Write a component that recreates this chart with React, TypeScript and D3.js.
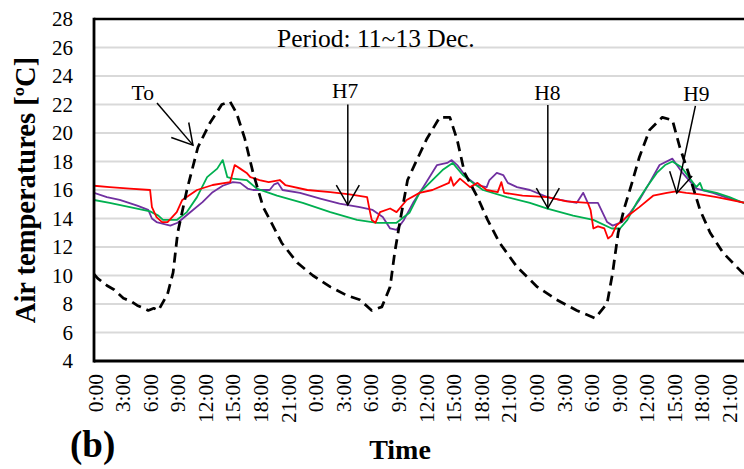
import React from "react";
import * as d3 from "d3";

// Outdoor air (To) and room air temperatures (H7, H8, H9), hours from 0:00 on 11 Dec.
const toSeries: [number, number][] = [
  [0, 10.1], [0.4, 9.8], [1.4, 9.3], [2.2, 9.0], [3.2, 8.4], [4, 8.2], [4.7, 7.9], [5.9, 7.55],
  [6.5, 7.7], [7.0, 7.55], [8, 8.7], [8.6, 10.2], [9.1, 13.0], [10.1, 16.0], [11.3, 19.0],
  [12.6, 20.7], [13.9, 22.0], [14.8, 22.2], [15.5, 21.4], [16.4, 19.6], [17.3, 17.2], [18.4, 14.8],
  [19.3, 13.7], [20.4, 12.3], [22.1, 10.9], [23.8, 10.0], [25.7, 9.2], [27.5, 8.6], [28.9, 8.3],
  [30.2, 7.55], [31.3, 7.8], [32.2, 9.2], [32.7, 11.6], [33.3, 13.9], [34.1, 16.7], [35.1, 18.1],
  [36.2, 19.6], [37.6, 21.1], [38.7, 21.1], [39.5, 19.5], [40.3, 17.2], [41.7, 15.5], [42.8, 13.9],
  [44.1, 12.3], [46.0, 10.6], [48.2, 9.2], [50.3, 8.3], [52.5, 7.55], [54.5, 7.0], [55.8, 8.05],
  [56.4, 10.2], [57.0, 13.0], [57.7, 14.8], [58.5, 16.5], [59.3, 18.3], [60.4, 20.2], [61.8, 21.1],
  [62.9, 20.9], [63.7, 19.0], [64.8, 16.9], [65.9, 14.6], [67.0, 13.0], [68.4, 11.6], [70.5, 10.2],
  [72, 9.6],
];

const h7Series: [number, number][] = [
  [0, 15.8], [1.4, 15.5], [2.8, 15.3], [4.7, 14.9], [5.9, 14.6], [6.3, 14.0], [6.8, 13.75],
  [8.3, 13.5], [9.1, 13.7], [10.4, 14.4], [11.8, 15.15], [12.9, 15.85], [14.0, 16.3], [15.1, 16.55],
  [15.9, 16.5], [16.7, 16.1], [17.3, 16.0], [19.1, 16.0], [19.6, 16.4], [20.0, 16.5], [20.5, 16.0],
  [22.4, 15.8], [24.6, 15.4], [26.7, 15.05], [28.9, 14.8], [30.3, 14.6], [31.4, 14.1], [32.2, 13.3],
  [32.9, 13.2], [33.7, 13.9], [34.7, 15.1], [35.8, 16.2], [37.3, 17.75], [38.4, 17.9], [38.9, 18.1],
  [39.5, 17.75], [40.5, 16.9], [41.6, 16.35], [42.7, 16.2], [43.0, 16.7], [43.8, 17.2], [44.5, 17.05],
  [45.0, 16.5], [46.0, 16.2], [47.4, 16.0], [49.3, 15.5], [50.7, 15.3], [52.5, 15.1], [53.2, 15.8],
  [53.7, 15.1], [54.8, 15.1], [55.8, 13.75], [56.4, 13.5], [57.4, 13.75], [58.3, 14.4], [59.3, 15.3],
  [60.4, 16.5], [61.5, 17.75], [62.9, 18.2], [64.0, 17.2], [65.5, 16.1], [67.3, 15.8], [69.1, 15.4],
  [70.4, 15.15], [72, 14.9],
];

const h8Series: [number, number][] = [
  [0, 15.3], [1.7, 15.1], [3.9, 14.8], [6.1, 14.5], [7.0, 14.2], [7.5, 13.9], [9.0, 13.9],
  [10.1, 14.45], [11.2, 15.5], [12.3, 16.9], [13.4, 17.5], [14.0, 18.1], [14.5, 16.9], [15.1, 16.8],
  [16.6, 16.7], [17.7, 16.1], [19.9, 15.6], [22.7, 15.1], [25.7, 14.45], [28.6, 13.9], [30.8, 13.7],
  [32.9, 13.7], [34.3, 14.4], [35.4, 15.8], [36.8, 16.7], [37.9, 17.4], [39.0, 17.9], [40.1, 17.05],
  [41.2, 16.5], [42.3, 16.0], [44.9, 15.5], [47.4, 15.1], [49.3, 14.7], [52.1, 14.2], [54.3, 13.9],
  [56.3, 13.3], [57.2, 13.3], [58.0, 13.9], [59.0, 15.1], [60.1, 16.2], [61.2, 17.2], [62.1, 17.75],
  [62.9, 18.0], [63.9, 17.6], [64.8, 16.8], [65.5, 16.2], [65.9, 16.5], [66.2, 16.0], [67.7, 15.8],
  [69.1, 15.5], [70.4, 15.15], [72, 14.9],
];

const h9Series: [number, number][] = [
  [0, 16.3], [1.7, 16.2], [3.9, 16.1], [6.1, 16.0], [6.3, 14.8], [6.8, 14.1], [7.4, 13.75],
  [8.0, 13.75], [9.0, 14.45], [9.6, 15.3], [11.2, 16.0], [12.9, 16.35], [14.8, 16.55], [15.3, 17.75],
  [15.9, 17.5], [16.6, 17.2], [17.0, 16.9], [18.0, 16.7], [19.0, 16.55], [20.2, 16.7], [20.8, 16.35],
  [23.2, 16.0], [25.7, 15.85], [27.8, 15.7], [29.7, 15.5], [30.0, 14.5], [30.2, 13.9], [30.6, 13.7],
  [31.1, 14.45], [32.2, 14.7], [32.9, 14.45], [34.0, 15.3], [35.4, 15.8], [36.8, 16.0], [38.6, 16.5],
  [38.8, 16.9], [39.1, 16.3], [39.8, 16.8], [40.9, 16.2], [41.7, 16.5], [42.7, 16.0], [43.9, 15.85],
  [44.3, 16.55], [44.6, 15.8], [46.6, 15.6], [49.3, 15.5], [51.4, 15.2], [53.7, 15.1], [54.0, 14.6],
  [54.3, 13.3], [54.8, 13.45], [55.5, 13.3], [55.9, 12.6], [56.3, 12.8], [56.8, 13.5], [57.9, 14.1],
  [59.3, 14.8], [60.8, 15.6], [62.3, 15.8], [63.3, 15.9], [64.4, 15.8], [65.9, 15.7], [67.7, 15.5],
  [70.4, 15.15], [72, 14.95],
];

const yTicks = [4, 6, 8, 10, 12, 14, 16, 18, 20, 22, 24, 26, 28];
const xTickHours = d3.range(0, 72, 3);
const xTickLabels = xTickHours.map((h) => `${h % 24}:00`);

// Callouts: label position and arrow from tail to tip, in (hour, °C).
const callouts = [
  { text: "To", label: [5.3, 22.3], tail: [6.85, 22.1], tip: [10.76, 19.15] },
  { text: "H7", label: [27.3, 22.45], tail: [27.6, 22.0], tip: [27.6, 14.94] },
  { text: "H8", label: [49.3, 22.35], tail: [49.35, 21.96], tip: [49.35, 14.73] },
  { text: "H9", label: [65.5, 22.24], tail: [65.4, 21.9], tip: [63.37, 15.78] },
];

const W = 744;
const H = 469;
const M = { left: 94, top: 19, bottom: 361 };
const PX_PER_HOUR = 9.196;
const FONT = "'Liberation Serif', 'Times New Roman', serif";

export default function App() {
  const x = d3.scaleLinear().domain([0, 72]).range([M.left, M.left + 72 * PX_PER_HOUR]);
  const y = d3.scaleLinear().domain([4, 28]).range([M.bottom, M.top]);
  const line = d3
    .line<[number, number]>()
    .x((d) => x(d[0]))
    .y((d) => y(d[1]));

  const series = [
    { data: h7Series, color: "#7030a0", width: 1.8, dash: undefined },
    { data: h8Series, color: "#00b050", width: 1.8, dash: undefined },
    { data: h9Series, color: "#ff0000", width: 1.8, dash: undefined },
    { data: toSeries, color: "#000000", width: 2.75, dash: "10,6" },
  ];

  const arrowHead = (tail: number[], tip: number[]) => {
    const tx = x(tip[0]);
    const ty = y(tip[1]);
    const ang = Math.atan2(y(tail[1]) - ty, x(tail[0]) - tx);
    const len = 23;
    const spread = (30 * Math.PI) / 180;
    const p1 = [tx + len * Math.cos(ang + spread), ty + len * Math.sin(ang + spread)];
    const p2 = [tx + len * Math.cos(ang - spread), ty + len * Math.sin(ang - spread)];
    return `M${p1[0]},${p1[1]}L${tx},${ty}L${p2[0]},${p2[1]}`;
  };

  return (
    <svg
      width={W}
      height={H}
      style={{ position: "absolute", left: 0, top: 0, background: "#fff" }}
      fontFamily={FONT}
    >
      <defs>
        <clipPath id="plot-clip">
          <rect x={M.left} y={M.top} width={W - M.left + 20} height={M.bottom - M.top} />
        </clipPath>
      </defs>
      <rect width={W} height={H} fill="#fff" />

      {/* horizontal gridlines */}
      {yTicks
        .filter((t) => t > 4 && t < 28)
        .map((t) => (
          <line key={t} x1={M.left} x2={W + 20} y1={y(t)} y2={y(t)} stroke="#d9d9d9" strokeWidth={2} />
        ))}

      {/* series */}
      <g clipPath="url(#plot-clip)">
        {series.map((s, i) => (
          <path
            key={i}
            d={line(s.data) || ""}
            fill="none"
            stroke={s.color}
            strokeWidth={s.width}
            strokeDasharray={s.dash}
            strokeLinejoin="round"
          />
        ))}
      </g>

      {/* frame */}
      <line x1={M.left} x2={W + 20} y1={M.top} y2={M.top} stroke="#000" strokeWidth={2.6} />
      <line x1={M.left} x2={W + 20} y1={M.bottom} y2={M.bottom} stroke="#000" strokeWidth={2.8} />
      <line x1={M.left} x2={M.left} y1={M.top - 1.3} y2={M.bottom + 1.4} stroke="#000" strokeWidth={2.8} />

      {/* y tick labels */}
      {yTicks.map((t) => (
        <text key={t} x={73} y={y(t)} dy="0.35em" textAnchor="end" fontSize={21} fill="#000">
          {t}
        </text>
      ))}

      {/* x tick labels */}
      {xTickHours.map((h, i) => (
        <text
          key={h}
          transform={`translate(${x(h) + 1},${374}) rotate(-90)`}
          dy="0.35em"
          textAnchor="end"
          fontSize={21.5}
          fill="#000"
        >
          {xTickLabels[i]}
        </text>
      ))}

      {/* axis titles */}
      <text
        transform={`translate(35,${(M.top + M.bottom) / 2}) rotate(-90)`}
        textAnchor="middle"
        fontSize={28.5}
        fontWeight="bold"
        fill="#000"
      >
        Air temperatures [ºC]
      </text>
      <text x={400} y={459} textAnchor="middle" fontSize={28} fontWeight="bold" fill="#000">
        Time
      </text>
      <text x={70} y={457} fontSize={37} fontWeight="bold" fill="#000">
        (b)
      </text>
      <text x={277} y={47} fontSize={25.5} fill="#000">
        Period: 11~13 Dec.
      </text>

      {/* callouts */}
      {callouts.map((c) => (
        <g key={c.text}>
          <text x={x(c.label[0])} y={y(c.label[1])} textAnchor="middle" fontSize={21.5} fill="#000">
            {c.text}
          </text>
          <line
            x1={x(c.tail[0])}
            y1={y(c.tail[1])}
            x2={x(c.tip[0])}
            y2={y(c.tip[1])}
            stroke="#000"
            strokeWidth={1.5}
          />
          <path d={arrowHead(c.tail, c.tip)} fill="none" stroke="#000" strokeWidth={1.5} />
        </g>
      ))}
    </svg>
  );
}
